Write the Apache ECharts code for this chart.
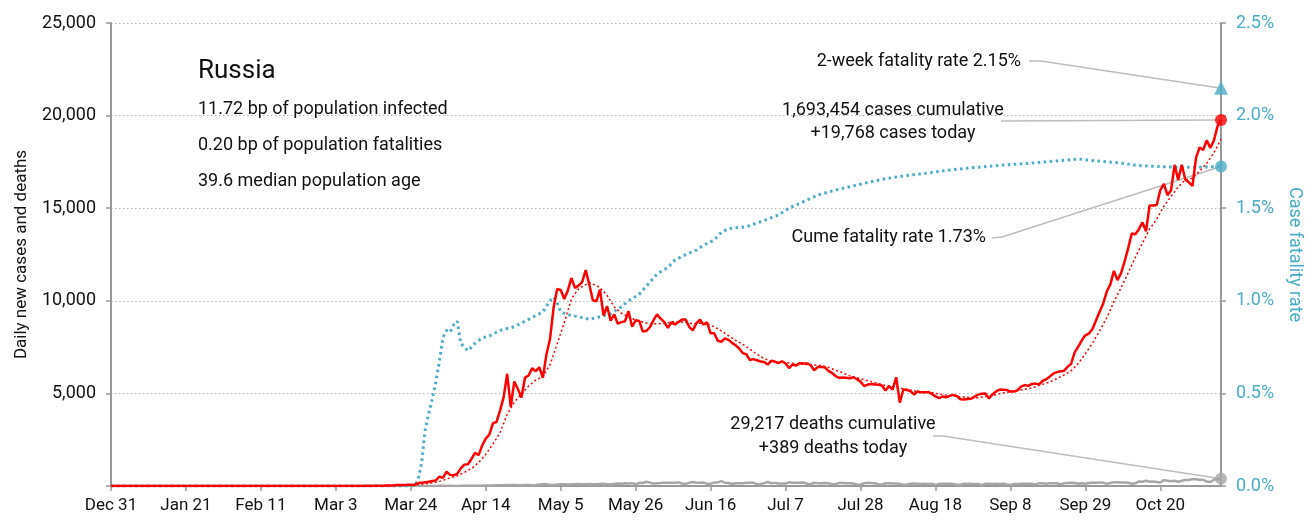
<!DOCTYPE html>
<html><head><meta charset="utf-8">
<script src="https://cdn.jsdelivr.net/npm/echarts@6/dist/echarts.min.js"></script>
<style>html,body{margin:0;padding:0;background:#fff}#c{width:1308px;height:522px}</style>
</head><body><div id="c"></div>
<script>
// ---------- DATA (day index 0 = Dec 31 on the chart) ----------
const xTickDays = [0,21,42,63,84,105,126,147,168,189,210,231,252,273,294];
const xTickLabels = ['Dec 31','Jan 21','Feb 11','Mar 3','Mar 24','Apr 14','May 5','May 26','Jun 16','Jul 7','Jul 28','Aug 18','Sep 8','Sep 29','Oct 20'];
const lastDay = 311;

const casesJanFeb = [0,0,0,0,0,0,0,0,0,0,0,0,0,0,0,0,0,0,0,0,0,0,0,0,0,0,0,0,0,0,0,0,2,0,0,0,0,0,0,0,0,0,0,0,0,0,0,0,0,0,0,0,0,0,0,0,0,0,0,0,0,0];
const casesMar = [0,1,0,0,1,6,0,3,0,3,8,0,17,14,4,27,21,33,52,54,53,61,71,57,163,182,196,228,270,302,501];
const casesApr = [440,771,601,582,658,954,1154,1175,1459,1786,1667,2186,2558,2774,3388,3448,4070,4785,6060,4268,5642,5236,4774,5849,5966,6361,6198,6411,5841,7099];
const casesMay = [7933,9623,10633,10581,10102,10559,11231,10699,10817,11012,11656,10899,10028,9974,10598,9200,9709,8926,9263,8764,8849,8894,9434,8599,8946,8915,8338,8371,8572,8952,9268];
const casesJun = [9035,8863,8536,8831,8726,8855,8984,8985,8595,8404,8779,8987,8706,8835,8246,8248,7843,7790,7972,7889,7728,7600,7425,7176,7113,6800,6852,6791,6719,6693];
const casesJul = [6556,6760,6718,6632,6736,6611,6368,6562,6509,6635,6611,6615,6537,6248,6422,6428,6406,6214,6109,5940,5842,5862,5848,5811,5871,5765,5635,5395,5475,5509,5482];
const casesAug = [5462,5427,5159,5394,5204,5870,4500,5212,5189,5118,4945,5102,5057,5061,5065,4969,4839,4748,4828,4785,4870,4921,4852,4687,4676,4696,4711,4829,4941,4980,4995];
const casesSep = [4729,4952,5110,5205,5195,5185,5099,5099,5172,5363,5449,5405,5509,5529,5488,5670,5762,5905,6065,6148,6196,6215,6431,6595,7212,7523,7867,8135,8232,8481];
const casesOct = [8945,9412,9859,10499,10888,11615,11115,11493,12126,12846,13634,13592,13868,14231,13754,15150,15150,15170,15982,16319,15700,15971,17340,16521,17347,16550,16400,16200,17717,18283,18140];
const casesNov = [18665,18257,18648,19404,19768];

const deathsJanFeb = [0,0,0,0,0,0,0,0,0,0,0,0,0,0,0,0,0,0,0,0,0,0,0,0,0,0,0,0,0,0,0,0,0,0,0,0,0,0,0,0,0,0,0,0,0,0,0,0,0,0,0,0,0,0,0,0,0,0,0,0,0,0];
const deathsMar = [0,0,0,0,0,0,0,0,0,0,0,0,0,0,0,0,0,0,1,0,0,0,0,0,1,0,1,1,0,4,8];
const deathsApr = [7,2,9,5,2,11,11,18,13,13,12,18,24,22,28,36,41,42,48,51,57,42,50,60,58,47,56,76,94,101];
const deathsMay = [57,58,76,95,98,86,88,98,104,88,94,107,96,93,113,119,94,91,115,135,127,150,139,153,92,174,161,232,181,138,153];
const deathsJun = [162,182,178,169,169,197,134,112,171,216,181,174,194,113,119,193,194,260,181,161,109,153,154,154,171,176,188,92,104,154];
const deathsJul = [216,147,168,135,134,135,198,173,174,174,188,123,95,175,155,154,161,146,95,95,169,165,146,147,133,86,70,150,169,161,154];
const deathsAug = [95,70,147,144,129,129,114,70,77,119,129,123,114,122,114,119,60,115,121,116,121,110,68,71,122,121,117,114,110,48,123];
const deathsSep = [123,112,119,110,119,81,56,104,112,119,120,122,126,88,142,150,122,144,145,149,91,144,160,169,165,117,153,117,160,186];
const deathsOct = [169,186,185,117,160,196,202,186,191,174,121,148,244,232,286,232,248,219,184,317,286,251,283,229,283,320,320,366,368,335,334];
const deathsNov = [245,213,336,354,389];

// 7-day trend of new cases [day, cases]
const casesTrend = [[0,0],[71,2],[77,12],[81,33],[83,45],[85,54],[87,92],[89,137],[91,200],[93,303],[95,445],[97,551],[99,737],[101,940],[103,1265],[105,1712],[107,2260],[109,2870],[111,3869],[113,4523],[115,4976],[117,5399],[119,5718],[121,5914],[123,6544],[125,7677],[127,8830],[129,10095],[131,10660],[133,10868],[134,10982],[135,10906],[137,10712],[139,10295],[141,9671],[143,9330],[145,9120],[147,8964],[149,8854],[151,8739],[153,8766],[155,8771],[157,8865],[159,8873],[161,8826],[163,8769],[165,8798],[167,8756],[169,8601],[171,8379],[173,8118],[175,7867],[177,7654],[179,7390],[181,7108],[183,6878],[185,6739],[187,6696],[189,6672],[191,6627],[193,6579],[195,6559],[197,6531],[199,6499],[201,6410],[203,6252],[205,6114],[207,5947],[209,5848],[211,5741],[213,5637],[215,5532],[217,5416],[219,5377],[221,5288],[223,5218],[225,5148],[227,5018],[229,5077],[231,5005],[233,4938],[235,4872],[237,4835],[239,4803],[241,4773],[243,4770],[245,4833],[247,4877],[249,4987],[251,5053],[253,5121],[255,5188],[257,5253],[259,5361],[261,5488],[263,5610],[265,5795],[267,5994],[269,6222],[271,6617],[273,7140],[275,7721],[277,8371],[279,9080],[281,9957],[283,10697],[285,11512],[287,12346],[289,13113],[291,13868],[293,14416],[295,15108],[297,15635],[299,16143],[301,16535],[303,16618],[305,17003],[307,17422],[309,17987],[311,18738]];

// cumulative case fatality rate, % [day, rate]
const cfrPoints = [[0,0],[85,0],[86,0.03],[87,0.12],[88,0.30],[89,0.39],[90,0.47],[91,0.56],[92,0.67],[93,0.80],[94,0.84],[95,0.83],[96,0.87],[97,0.89],[98,0.77],[99,0.75],[100,0.73],[102,0.77],[104,0.80],[106,0.81],[109,0.84],[113,0.86],[116,0.89],[119,0.92],[121,0.94],[122,0.97],[123,1.00],[124,1.02],[125,0.99],[126,0.94],[128,0.925],[131,0.914],[134,0.90],[137,0.914],[140,0.93],[143,0.968],[145,1.0],[148,1.035],[149,1.058],[151,1.10],[153,1.145],[156,1.18],[158,1.22],[161,1.249],[164,1.274],[166,1.30],[169,1.328],[171,1.37],[173,1.39],[178,1.40],[182,1.427],[187,1.463],[190,1.50],[194,1.535],[198,1.571],[203,1.598],[209,1.625],[213,1.643],[216,1.656],[222,1.674],[228,1.688],[235,1.706],[242,1.72],[250,1.733],[257,1.742],[265,1.755],[271,1.766],[276,1.755],[282,1.746],[288,1.73],[294,1.725],[300,1.72],[306,1.722],[311,1.725]];

const twoWeekRate = 2.15;
const cumeRateLabel = '1.73';
const cumulativeCases = 1693454;
const cumulativeDeaths = 29217;
const country = 'Russia';
const infoLines = ['11.72 bp of population infected','0.20 bp of population fatalities','39.6 median population age'];

// ---------- BUILD ----------
const newCases = [].concat(casesJanFeb,casesMar,casesApr,casesMay,casesJun,casesJul,casesAug,casesSep,casesOct,casesNov);
const newDeaths = [].concat(deathsJanFeb,deathsMar,deathsApr,deathsMay,deathsJun,deathsJul,deathsAug,deathsSep,deathsOct,deathsNov);
const casesXY = newCases.map((v,i)=>[i,v]);
const deathsXY = newDeaths.map((v,i)=>[i,v]);
const lastCases = newCases[newCases.length-1];
const lastDeaths = newDeaths[newDeaths.length-1];
const lastCfr = cfrPoints[cfrPoints.length-1][1];

const FONT = "Roboto,'Liberation Sans',sans-serif";
const BLUE = '#4bacc6', RED = '#ff0000', GREY = '#a6a6a6', TXT = '#111';
const fmt = n => n.toLocaleString('en-US');

const chart = echarts.init(document.getElementById('c'));
const option = {
  animation: false,
  textStyle: {fontFamily: FONT},
  grid: {left: 111, right: 87, top: 23, bottom: 36, containLabel: false, outerBoundsMode: 'none'},
  xAxis: {
    type: 'value', min: 0, max: lastDay,
    axisLine: {show: true, lineStyle: {color: '#999', width: 2}},
    axisTick: {show: true, length: 5, lineStyle: {color: '#999', width: 1.5}, customValues: xTickDays},
    axisLabel: {customValues: xTickDays, formatter: v => xTickLabels[xTickDays.indexOf(v)] || '', color: TXT, fontSize: 17, fontFamily: FONT, margin: 11},
    splitLine: {show: false}
  },
  yAxis: [{
    type: 'value', min: 0, max: 25000, interval: 5000, position: 'left',
    name: 'Daily new cases and deaths', nameLocation: 'middle', nameGap: 81, nameRotate: 90,
    nameTextStyle: {color: TXT, fontSize: 17, fontFamily: FONT},
    axisLine: {show: true, lineStyle: {color: '#999', width: 2}},
    axisTick: {show: true, length: 5, lineStyle: {color: '#999', width: 1.5}},
    axisLabel: {formatter: v => v === 0 ? '' : fmt(v), color: TXT, fontSize: 18, fontFamily: FONT, margin: 15},
    splitLine: {show: true, lineStyle: {color: '#b5b5b5', type: [1.5, 2.5], width: 1}}
  }, {
    type: 'value', min: 0, max: 2.5, interval: 0.5, position: 'right',
    name: 'Case fatality rate', nameLocation: 'middle', nameGap: 62, nameRotate: -90,
    nameTextStyle: {color: BLUE, fontSize: 18, fontFamily: FONT},
    axisLine: {show: true, lineStyle: {color: '#999', width: 2}},
    axisTick: {show: true, length: 5, lineStyle: {color: '#999', width: 1.5}},
    axisLabel: {formatter: v => v.toFixed(1) + '%', color: BLUE, fontSize: 18, fontFamily: FONT, margin: 15},
    splitLine: {show: false}
  }],
  series: [
    {name: 'deaths', type: 'line', data: deathsXY, yAxisIndex: 0, showSymbol: false, symbol: 'none',
     lineStyle: {color: GREY, width: 2.5}, z: 2},
    {name: 'cfr', type: 'line', data: cfrPoints, yAxisIndex: 1, showSymbol: false, symbol: 'none',
     lineStyle: {color: BLUE, width: 3, type: [2.5, 3.5]}, z: 3},
    {name: 'cases', type: 'line', data: casesXY, yAxisIndex: 0, showSymbol: false, symbol: 'none',
     lineStyle: {color: RED, width: 2.5}, z: 4},
    {name: 'trend', type: 'line', data: casesTrend, yAxisIndex: 0, showSymbol: false, symbol: 'none',
     lineStyle: {color: RED, width: 1.5, type: [2, 2.5]}, z: 5},
    {name: 'casesEnd', type: 'scatter', data: [[lastDay, lastCases]], yAxisIndex: 0, symbol: 'circle', symbolSize: 12,
     itemStyle: {color: RED}, clip: false, z: 10},
    {name: 'cfrEnd', type: 'scatter', data: [[lastDay, lastCfr]], yAxisIndex: 1, symbol: 'circle', symbolSize: 12,
     itemStyle: {color: BLUE}, clip: false, z: 10},
    {name: 'twoWeek', type: 'scatter', data: [[lastDay, twoWeekRate]], yAxisIndex: 1, symbol: 'triangle', symbolSize: 14,
     itemStyle: {color: BLUE}, clip: false, z: 10},
    {name: 'deathsEnd', type: 'scatter', data: [[lastDay, lastDeaths]], yAxisIndex: 0, symbol: 'circle', symbolSize: 12,
     itemStyle: {color: GREY}, clip: false, z: 10}
  ]
};
chart.setOption(option);

const P = (si, pt) => chart.convertToPixel({seriesIndex: si}, pt);
const pRed = P(4, [lastDay, lastCases]);
const pCfr = P(5, [lastDay, lastCfr]);
const pTri = P(6, [lastDay, twoWeekRate]);
const pDth = P(7, [lastDay, lastDeaths]);

const txt = (text, x, y, align, size) => ({type: 'text', x, y, z: 20, silent: true,
  style: {text, fill: TXT, fontSize: size || 18, fontFamily: FONT, align: align || 'left', verticalAlign: 'middle'}});
const leader = pts => ({type: 'polyline', z: 1, silent: true, shape: {points: pts}, style: {stroke: '#bdbdbd', lineWidth: 1.5, fill: null}});

chart.setOption({graphic: {elements: [
  txt(country, 198, 71, 'left', 26),
  txt(infoLines[0], 198, 109, 'left', 18),
  txt(infoLines[1], 198, 145, 'left', 18),
  txt(infoLines[2], 198, 181, 'left', 18),
  txt('2-week fatality rate ' + twoWeekRate.toFixed(2) + '%', 1021, 61, 'right'),
  leader([[1029, 61], [1041, 61], [pTri[0] - 3, pTri[1]]]),
  txt(fmt(cumulativeCases) + ' cases cumulative', 893, 110, 'center'),
  txt('+' + fmt(lastCases) + ' cases today', 893, 133, 'center'),
  leader([[1001, 121], [pRed[0], pRed[1]]]),
  txt('Cume fatality rate ' + cumeRateLabel + '%', 986, 237, 'right'),
  leader([[992, 238], [1002, 237], [pCfr[0], pCfr[1]]]),
  txt(fmt(cumulativeDeaths) + ' deaths cumulative', 833, 424, 'center'),
  txt('+' + lastDeaths + ' deaths today', 833, 448, 'center'),
  leader([[933, 436], [943, 436], [pDth[0], pDth[1]]])
]}});
</script></body></html>
